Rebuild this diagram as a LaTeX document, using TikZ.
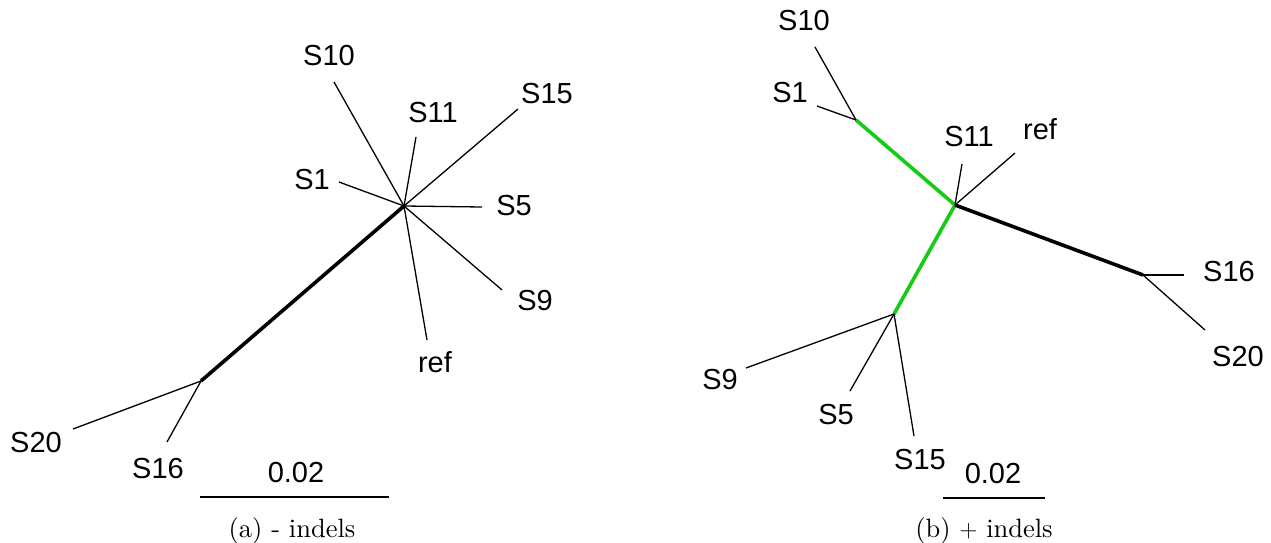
\documentclass[tikz,border=0pt]{standalone}
\usepackage{fontspec}
\newfontfamily\arialf{Liberation Sans}
\newfontfamily\capfont{lmroman10-regular.otf}
\definecolor{brgreen}{RGB}{20,204,20}
\tikzset{
  lbl/.style={font=\arialf\fontsize{29}{31}\selectfont, inner sep=0pt, anchor=center},
  captxt/.style={font=\capfont\fontsize{26.5}{28}\selectfont, inner sep=0pt, anchor=center},
  thinedge/.style={line width=1.3pt, black},
  thickedge/.style={line width=3.6pt, black},
  greenedge/.style={line width=3.6pt, brgreen},
  bar/.style={line width=1.5pt, black}
}
\begin{document}
\begin{tikzpicture}[x=1pt,y=-1pt]
\useasboundingbox (0,0) rectangle (1271,543);
% ---------- (a) ----------
\coordinate (ah) at (404,206);
\coordinate (an) at (201,381);
\coordinate (t10) at (334,82);
\coordinate (t11) at (416,137);
\coordinate (t15) at (518,109);
\coordinate (t1) at (339,182);
\coordinate (t5) at (482,207);
\coordinate (t9) at (502,290);
\coordinate (tref) at (427,340);
\coordinate (t20) at (73,429);
\coordinate (t16) at (167,442);
\node[lbl] (aS10) at (329,56) {S10};
\node[lbl] (aS11) at (433,113) {S11};
\node[lbl] (aS15) at (547,94) {S15};
\node[lbl] (aS1) at (312,180) {S1};
\node[lbl] (aS5) at (514,206) {S5};
\node[lbl] (aS9) at (535,301) {S9};
\node[lbl] (aref) at (435,362) {ref};
\node[lbl] (aS20) at (36,443) {S20};
\node[lbl] (aS16) at (158,469) {S16};
\draw[thickedge] (an) -- (ah);
\foreach \t in {t10,t11,t15,t1,t5,t9,tref} \draw[thinedge] (ah) -- (\t);
\draw[thinedge] (an) -- (t20);
\draw[thinedge] (an) -- (t16);
\coordinate (abl) at (200,497);
\coordinate (abr) at (389,497);
\draw[bar] (abl) -- (abr);
\node[lbl] (asc) at (296,473) {0.02};
\node[captxt] (acap) at (292,531) {(a) - indels};
% ---------- (b) ----------
\coordinate (bh) at (955,205);
\coordinate (b1) at (856,120);
\coordinate (b2) at (894,314);
\coordinate (b3) at (1143,275);
\coordinate (u10) at (815,47);
\coordinate (u1) at (817,106);
\coordinate (u11) at (962,164);
\coordinate (uref) at (1015,153);
\coordinate (u16) at (1184,275);
\coordinate (u20) at (1205,330);
\coordinate (u9) at (746,368);
\coordinate (u5) at (850,391);
\coordinate (u15) at (914,436);
\node[lbl] (bS10) at (804,21) {S10};
\node[lbl] (bS1) at (790,93) {S1};
\node[lbl] (bS11) at (969,137) {S11};
\node[lbl] (bref) at (1040,129) {ref};
\node[lbl] (bS16) at (1229,272) {S16};
\node[lbl] (bS20) at (1238,357) {S20};
\node[lbl] (bS9) at (720,380) {S9};
\node[lbl] (bS5) at (836,415) {S5};
\node[lbl] (bS15) at (920,460) {S15};
\draw[greenedge] (b1) -- (bh);
\draw[greenedge] (bh) -- (b2);
\draw[thickedge] (bh) -- (b3);
\draw[thinedge] (b1) -- (u10);
\draw[thinedge] (b1) -- (u1);
\draw[thinedge] (bh) -- (u11);
\draw[thinedge] (bh) -- (uref);
\draw[thinedge] (b3) -- (u16);
\draw[thinedge] (b3) -- (u20);
\draw[thinedge] (b2) -- (u9);
\draw[thinedge] (b2) -- (u5);
\draw[thinedge] (b2) -- (u15);
\coordinate (bbl) at (943,498);
\coordinate (bbr) at (1045,498);
\draw[bar] (bbl) -- (bbr);
\node[lbl] (bsc) at (993,474) {0.02};
\node[captxt] (bcap) at (984,531) {(b) $+$ indels};
\end{tikzpicture}
\end{document}
